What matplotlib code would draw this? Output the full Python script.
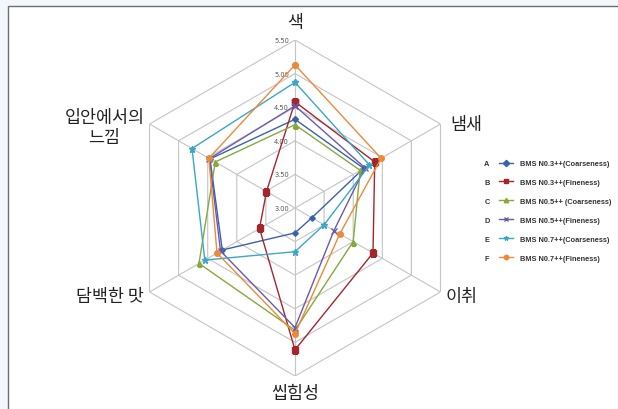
import numpy as np
import matplotlib
matplotlib.use("Agg")
import matplotlib.pyplot as plt
from matplotlib.patches import Rectangle

plt.rcParams['font.family'] = ['Noto Sans CJK KR', 'DejaVu Sans']

# data
categories = ['색', '냄새', '이취', '씹힘성', '담백한 맛', '입안에서의\n느낌']
A = [4.32, 4.18, 3.29, 3.37, 4.25, 4.46]
B = [4.58, 4.37, 4.34, 5.11, 3.61, 3.49]
C = [4.24, 4.12, 4.00, 4.82, 4.65, 4.37]
D = [4.52, 4.20, 3.67, 4.78, 4.28, 4.47]
E = [4.87, 4.28, 3.50, 3.65, 4.55, 4.77]
F = [5.13, 4.48, 3.77, 4.87, 4.34, 4.48]
series = [A, B, C, D, E, F]
letters = ['A', 'B', 'C', 'D', 'E', 'F']
names = ['BMS N0.3++(Coarseness)', 'BMS N0.3++(Fineness)', 'BMS N0.5++ (Coarseness)',
         'BMS N0.5++(Fineness)', 'BMS N0.7++(Coarseness)', 'BMS N0.7++(Fineness)']
ticks = [3.00, 3.50, 4.00, 4.50, 5.00, 5.50]

colors = ['#3A62A7', '#A4262C', '#86A83C', '#6A5AAA', '#3AA7C6', '#EB8A3A']
markers = ['D', 's', '^', 'x', '*', 'o']
msizes = [2.8, 4.2, 3.6, 4, 4.5, 4]

fig = plt.figure(figsize=(6.18, 4.10), dpi=100)
fig.patch.set_facecolor('#F3F7FB')
# page-like frame around the chart
fig.add_artist(Rectangle((8 / 618, -0.01), 1, 1 - 7 / 410 + 0.01, transform=fig.transFigure,
                         facecolor='white', edgecolor='#6F6F6F', lw=1.0, zorder=-5))

ax = fig.add_axes([0.2055, 0.0805, 0.5437, 0.8195], projection='polar')
ax.set_theta_offset(np.pi / 2)
ax.set_theta_direction(-1)
ax.set_ylim(ticks[0], ticks[-1])
ax.grid(False)
ax.spines['polar'].set_visible(False)
ax.set_xticks([])
ax.set_yticks([])
ax.patch.set_alpha(0)

n = len(categories)
theta = np.arange(n) * 2 * np.pi / n
theta_c = np.append(theta, theta[0])

# hexagonal grid
for t in ticks[1:]:
    ax.plot(theta_c, [t] * (n + 1), color='#C4C4C4', lw=0.8, zorder=1)
for th in theta:
    ax.plot([th, th], [ticks[0], ticks[-1]], color='#C4C4C4', lw=0.8, zorder=1)

for t in ticks:
    ax.annotate(f'{t:.2f}', xy=(0, t), xytext=(-6, 0), textcoords='offset pixels',
                ha='right', va='center', fontsize=4.8, color='#555555',
                family='DejaVu Sans')

offsets = [(0, 18), (26, 0), (21, -4), (0, -17), (-40, -4), (-45, -3)]
for th, lab, off in zip(theta, categories, offsets):
    ax.annotate(lab, xy=(th, ticks[-1]), xytext=off, textcoords='offset pixels',
                ha='center', va='center', fontsize=12.5, color='#222222',
                linespacing=1.2, annotation_clip=False)

handles = []
for vals, c, m, ms in zip(series, colors, markers, msizes):
    v = np.append(vals, vals[0])
    h, = ax.plot(theta_c, v, color=c, lw=1.0, marker=m, markersize=ms,
                 markeredgewidth=1.0, zorder=3)
    handles.append(h)

leg_font = {'family': ['Liberation Sans', 'DejaVu Sans'], 'size': 5.3, 'weight': 'bold'}
leg = fig.legend(handles, names, loc='upper left', bbox_to_anchor=(496 / 618, 1 - 158 / 410),
                 frameon=False, handlelength=1.9, handletextpad=1.0, labelspacing=1.6,
                 borderaxespad=0, prop=leg_font)
for t in leg.get_texts():
    t.set_color('#333333')
for h in leg.legend_handles:
    h.set_markersize(3.2)

fig.canvas.draw()
inv = fig.transFigure.inverted()
for t, letter in zip(leg.get_texts(), letters):
    bb = t.get_window_extent()
    y = inv.transform((0, (bb.y0 + bb.y1) / 2))[1]
    fig.text(487 / 618, y, letter, ha='center', va='center', color='#333333',
             fontsize=5.3, weight='bold', family=['Liberation Sans', 'DejaVu Sans'])

fig.savefig('out.png', dpi=100)
